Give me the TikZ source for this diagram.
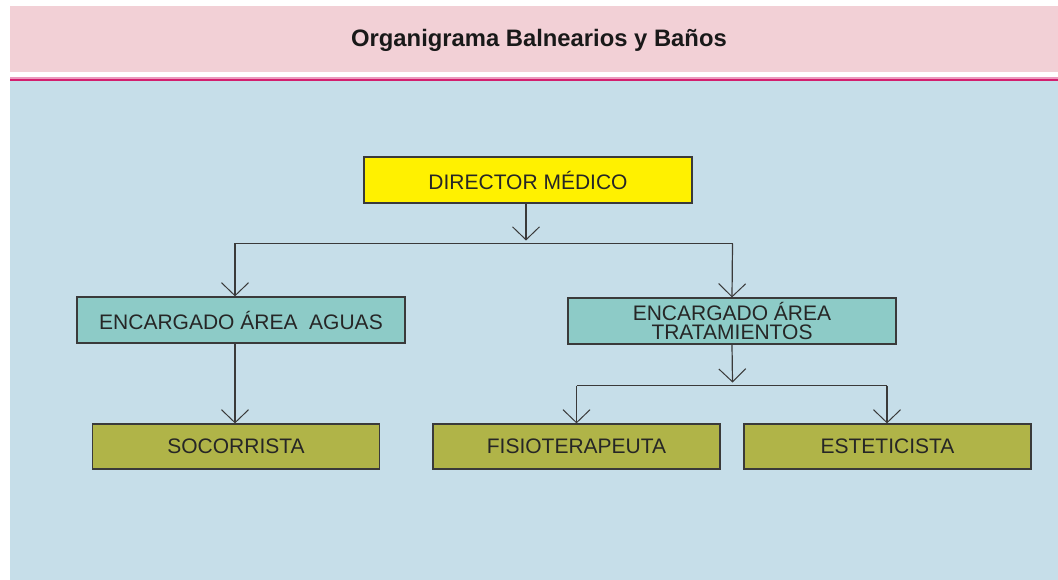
\documentclass[tikz,border=0pt]{standalone}
\usepackage{fontspec}
\setmainfont{Liberation Sans}
\usetikzlibrary{arrows.meta,calc}
\definecolor{titlebg}{HTML}{F2D0D6}
\definecolor{magline}{HTML}{D21F6E}
\definecolor{bluebg}{HTML}{C6DEE9}
\definecolor{yellowbox}{HTML}{FFF100}
\definecolor{tealbox}{HTML}{8DCBC7}
\definecolor{olivebox}{HTML}{B0B448}
\definecolor{edge}{HTML}{3A3A3A}
\tikzset{
  orgbox/.style={draw=edge, line width=1.2pt, inner sep=0pt, align=center,
    font=\fontsize{21}{19}\selectfont, text=black!85},
  dirbox/.style={orgbox, fill=yellowbox, minimum width=328pt, minimum height=46pt},
  encbox/.style={orgbox, fill=tealbox, minimum width=328pt, minimum height=46pt},
  posbox/.style={orgbox, fill=olivebox, minimum width=287pt, minimum height=45pt},
  conn/.style={draw=edge, line width=1.2pt},
  arr/.style={conn, -{Straight Barb[length=13pt,width=27pt,line width=1pt]}}
}
\begin{document}
\begin{tikzpicture}[x=1pt,y=-1pt]
\useasboundingbox (0,0) rectangle (1058,580);
\fill[white] (0,0) rectangle (1058,580);
% title band
\fill[titlebg] (10,6) rectangle (1058,72);
\node[font=\bfseries\fontsize{23.8}{26}\selectfont, text=black!90] (title) at (539,40) {Organigrama Balnearios y Baños};
\fill[magline!45] (10,77.5) rectangle (1058,79);
\fill[magline] (10,79) rectangle (1058,81.5);
\fill[bluebg] (10,81.5) rectangle (1058,580);
% boxes
\node[dirbox] (dir) at (528,180) {DIRECTOR MÉDICO};
\node[encbox] (aguas) at (241,320) {ENCARGADO ÁREA\ \ AGUAS};
\node[encbox] (trat) at (732,321) {ENCARGADO ÁREA\\TRATAMIENTOS};
\node[posbox] (soc) at (236,446.5) {SOCORRISTA};
\node[posbox] (fis) at (576.5,446.5) {FISIOTERAPEUTA};
\node[posbox] (est) at (887.5,446.5) {ESTETICISTA};
% junctions
\coordinate (j1) at (526,243.5);
\coordinate (ja) at (235,243.5);
\coordinate (jt) at (732.5,243.5);
\coordinate (j2) at (732.5,385.5);
\coordinate (jf) at (576.5,385.5);
\coordinate (je) at (887,385.5);
% connectors
\draw[arr] (dir.south -| j1) -- ($(j1)+(0,-3)$);
\draw[conn] (ja) -- (jt);
\draw[arr] (ja) -- (ja |- aguas.north);
\draw[arr] (jt) -- (trat.north);
\draw[arr] (aguas.south -| ja) -- (soc.north -| ja);
\draw[arr] (trat.south) -- ($(j2)+(0,-3)$);
\draw[conn] (jf) -- (je);
\draw[arr] (jf) -- (fis.north);
\draw[arr] (je) -- (est.north -| je);
\end{tikzpicture}
\end{document}
